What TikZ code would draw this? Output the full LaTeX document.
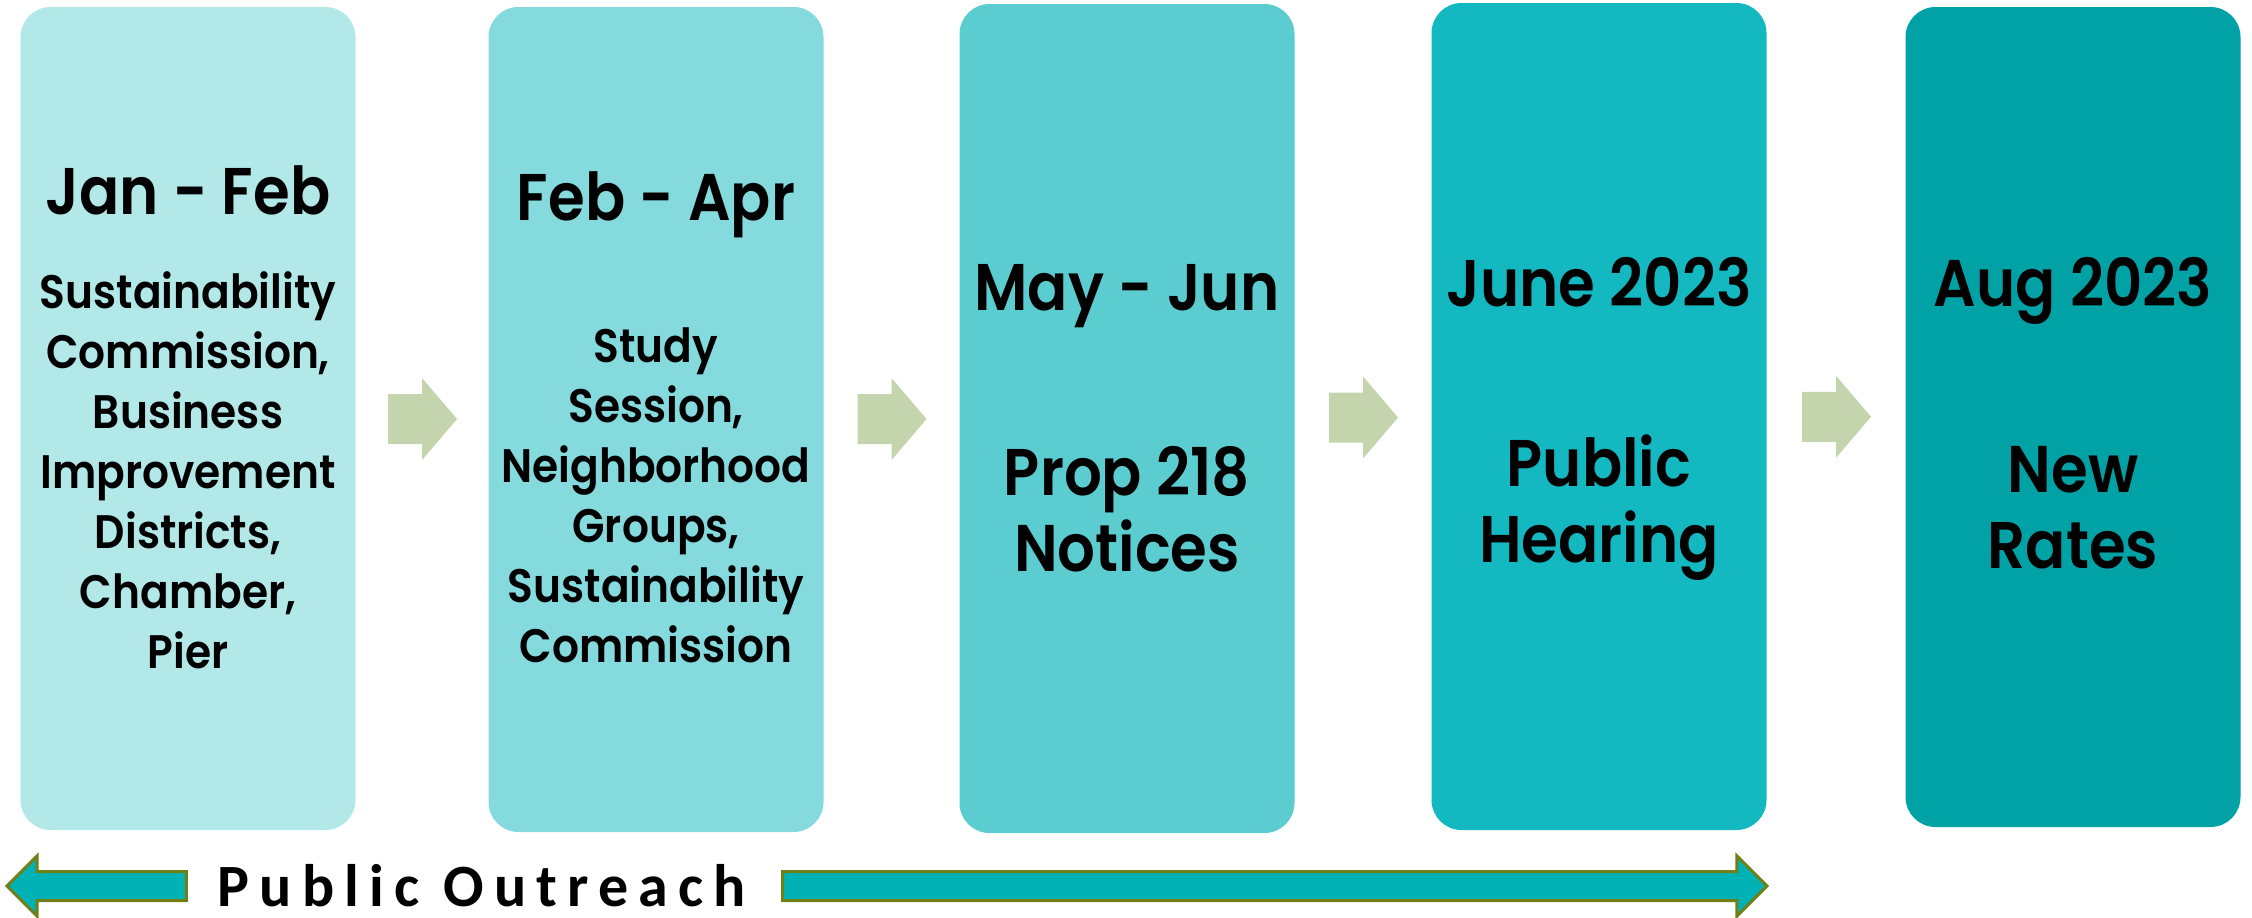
\documentclass[tikz,border=0pt]{standalone}
\usepackage{fontspec}
\setmainfont{Poppins}[UprightFont=* SemiBold, BoldFont=* Bold, FakeStretch=0.9]
\newfontfamily\outfont{Carlito}[LetterSpace=17]
\usetikzlibrary{calc}

\definecolor{c1}{HTML}{B2E8E8}
\definecolor{c2}{HTML}{84DADC}
\definecolor{c3}{HTML}{5BCDD0}
\definecolor{c4}{HTML}{14B8C0}
\definecolor{c5}{HTML}{00A2A6}
\definecolor{gapgreen}{HTML}{C4D4AC}
\definecolor{outfill}{HTML}{00B2B6}
\definecolor{outline}{HTML}{6F8019}

\begin{document}
\begin{tikzpicture}[x=0.5pt, y=-0.5pt,
    box/.style={rounded corners=15pt, minimum width=167.5pt, inner sep=0pt},
    head/.style={font=\fontsize{33}{40}\selectfont, anchor=base, inner sep=0pt},
    body/.style={font=\fontsize{23.5}{30}\selectfont, align=center, inner sep=0pt},
    big/.style={font=\fontsize{33}{38}\selectfont, align=center, inner sep=0pt},
    gaparrow/.style={fill=gapgreen},
    outarrow/.style={fill=outfill, draw=outline, line width=1.5pt, line join=miter}]
    \useasboundingbox (0,0) rectangle (2252,917);

    \foreach \n/\x/\y/\h in {1/188/418.5/823, 2/656/419.5/825, 3/1127/418.5/829, 4/1599/416.5/827, 5/2073/417/820} {
        \node[box, fill=c\n, minimum height=\h*0.5pt] (b\n) at (\x, \y) {};
    }

    \node[head] (h1) at (188, 214) {Jan - Feb};
    \node[head] (h2) at (656, 220) {Feb - Apr};
    \node[head] (h3) at (1127, 310) {May - Jun};
    \node[head] (h4) at (1599, 306) {June 2023};
    \node[head] (h5) at (2073, 306) {Aug 2023};

    \node[body] (t1) at (188, 470) {Sustainability\\Commission,\\Business\\Improvement\\Districts,\\Chamber,\\Pier};
    \node[body] (t2) at (656, 495) {Study\\Session,\\Neighborhood\\Groups,\\Sustainability\\Commission};
    \node[big] (t3) at (1127, 509) {Prop 218\\Notices};
    \node[big] (t4) at (1599, 508) {Public\\Hearing};
    \node[big] (t5) at (2073, 508) {New\\Rates};

    \foreach \a/\b in {1/2, 2/3, 3/4, 4/5} {
        \path (b\a.east) -- (b\b.west) coordinate[midway] (m\a);
        \fill[gaparrow] ($(m\a)+(-34,-25)$) -- ++(34,0) -- ++(0,-16) -- ++(35,41)
            -- ++(-35,41) -- ++(0,-16) -- ++(-34,0) -- cycle;
    }

    \node[font={\outfont\bfseries\fontsize{30}{36}\selectfont}, inner sep=0pt] (out) at (482, 886) {Public Outreach};
    \coordinate (ltip) at (7, 886);
    \coordinate (rtip) at (b4.east |- out);
    \draw[outarrow] (ltip) -- ++(30,-30) -- ++(0,15.5) -- ($(out.west)+(-31,-14.5)$)
        -- ($(out.west)+(-31,14.5)$) -- ($(ltip)+(30,14.5)$) -- ++(0,15.5) -- cycle;
    \draw[outarrow] (rtip) -- ++(-30,-30) -- ++(0,15.5) -- ($(out.east)+(36,-14.5)$)
        -- ($(out.east)+(36,14.5)$) -- ($(rtip)+(-30,14.5)$) -- ++(0,15.5) -- cycle;
\end{tikzpicture}
\end{document}
